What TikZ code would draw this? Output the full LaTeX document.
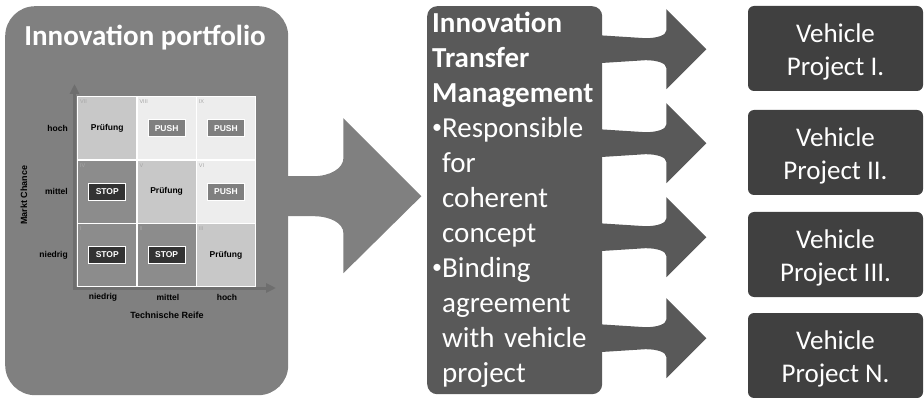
\documentclass[tikz,border=0pt]{standalone}
\usepackage{fontspec}
\setmainfont{Carlito}
\newfontfamily\gridfont{Liberation Sans}
\usetikzlibrary{arrows.meta, calc, positioning}

\definecolor{panelgray}{HTML}{808080}
\definecolor{itmgray}{HTML}{595959}
\definecolor{projgray}{HTML}{404040}
\definecolor{celllight}{HTML}{EDEDED}
\definecolor{cellmid}{HTML}{C8C8C8}
\definecolor{celldark}{HTML}{8C8C8C}
\definecolor{axisgray}{HTML}{6E6E6E}
\definecolor{numgray}{HTML}{A6A6A6}
\definecolor{pushgray}{HTML}{7F7F7F}
\definecolor{stopgray}{HTML}{333333}

\newcommand{\itmbullet}{\makebox[10pt][l]{\raisebox{4.5pt}{\fontsize{20}{20}\selectfont•}}}
\newcommand{\itmindent}{\hspace*{10pt}}

\begin{document}
\begin{tikzpicture}[x=1pt, y=-1pt,
    panel/.style={fill=panelgray, rounded corners=30pt, minimum width=283pt, minimum height=389pt, anchor=north west, inner sep=0pt},
    ptitle/.style={text=white, font=\fontsize{29}{35}\selectfont\bfseries, anchor=base},
    cell/.style={fill=#1, draw=white, line width=1.2pt, minimum width=59.33pt, minimum height=63.33pt, anchor=north west, inner sep=0pt},
    numeral/.style={text=numgray, font=\gridfont\fontsize{5.5}{5.5}\selectfont, anchor=north west, inner sep=0pt},
    verdict/.style={font=\gridfont\bfseries\fontsize{8.5}{8.5}\selectfont, inner sep=0pt},
    pushbox/.style={fill=pushgray, draw=white, line width=0.8pt, text=white, minimum width=37pt, minimum height=17pt, inner sep=0pt, font=\gridfont\bfseries\fontsize{8.5}{8.5}\selectfont},
    stopbox/.style={pushbox, fill=stopgray},
    axis/.style={draw=axisgray, line width=3pt, {Triangle[length=10pt, width=9pt]}-{Triangle[length=10pt, width=9pt]}},
    axlabel/.style={font=\gridfont\bfseries\fontsize{8.5}{8.5}\selectfont, inner sep=0pt},
    itmbox/.style={fill=itmgray, rounded corners=10pt, text=white, minimum width=175pt, minimum height=388pt, text width=165pt, inner xsep=5pt, align=left, anchor=north west, font=\fontsize{29}{35}\selectfont},
    project/.style={fill=projgray, rounded corners=6pt, text=white, minimum width=175pt, minimum height=85pt, align=center, font=\fontsize{27}{33}\selectfont},
    pics/bigarrow/.style={code={
        \fill[panelgray] (-5,-20) -- (25,-20) .. controls (42,-20) and (55,-28) .. (55,-38) -- (55,-78) -- (133,0)
            -- (55,77) -- (55,37) .. controls (55,27) and (42,20) .. (25,20) -- (-5,20) -- cycle;
    }},
    pics/smallarrow/.style={code={
        \fill[itmgray] (-4,-14) .. controls (20,-12) .. (43,-11) .. controls (55,-11) and (64,-14) .. (64,-19) -- (64,-40) -- (104,0)
            -- (64,40) -- (64,19) .. controls (64,14) and (55,11) .. (43,11) .. controls (20,12) .. (-4,14) -- cycle;
    }},
]
\useasboundingbox (0,0) rectangle (924,398);

% ---------------------------------------------------------------
% Innovation portfolio
% ---------------------------------------------------------------
\node[panel] (panel) at (5,6) {};
\pic at ($(panel.east)+(0,-4.5)$) {bigarrow};
\node[ptitle] (ptitle) at (145,46) {Innovation portfolio};

% Cells of the portfolio matrix
\foreach \num/\col/\row/\shade in {I/0/2/celldark, II/1/2/celldark, III/2/2/cellmid,
        IV/0/1/celldark, V/1/1/cellmid, VI/2/1/celllight,
        VII/0/0/cellmid, VIII/1/0/celllight, IX/2/0/celllight} {
    \node[cell=\shade] (cell\num) at ({77+\col*59.33}, {96+\row*63.33}) {};
    \node[numeral] at ([xshift=3pt, yshift=-4pt]cell\num.north west) {\num};
}

% Verdicts
\foreach \num in {VII, V, III}
    \node[verdict] at (cell\num) {Prüfung};
\foreach \num in {VIII, IX, VI}
    \node[pushbox] at (cell\num) {PUSH};
\foreach \num in {IV, I, II}
    \node[stopbox] at (cell\num) {STOP};

% Axes
\coordinate (origin) at (74.5,288);
\coordinate (ytip) at (74.5,84);
\coordinate (xtip) at (276,288);
\draw[axis] (ytip) -- (origin) -- (xtip);

% Axis labels
\node[axlabel, anchor=east, left=9pt of cellVII] (rowhigh) {hoch};
\node[axlabel, anchor=east, left=9pt of cellIV] (rowmid) {mittel};
\node[axlabel, anchor=east, left=9pt of cellI] (rowlow) {niedrig};
\node[axlabel] (collow) at (103,297) {niedrig};
\node[axlabel] (colmid) at (168,297) {mittel};
\node[axlabel] (colhigh) at (227,297) {hoch};
\node[axlabel, font=\gridfont\bfseries\fontsize{9}{9}\selectfont] (xname) at (167,315) {Technische Reife};
\node[axlabel, font=\gridfont\bfseries\fontsize{9}{9}\selectfont, rotate=90] (yname) at (24,195) {Markt Chance};

% ---------------------------------------------------------------
% Innovation Transfer Management
% ---------------------------------------------------------------
\node[itmbox] (itm) at (427,6) {\textbf{Innovation}\\\textbf{Transfer}\\\textbf{Management}\\
    \itmbullet Responsible\\\itmindent for\\\itmindent coherent\\\itmindent concept\\
    \itmbullet Binding\\\itmindent agreement\\\itmindent with vehicle\\\itmindent project};
\foreach \dy in {-151, -57, 37, 138}
    \pic at ($(itm.east)+(0,\dy)$) {smallarrow};

% ---------------------------------------------------------------
% Vehicle projects
% ---------------------------------------------------------------
\foreach \i/\y/\lbl in {1/48.5/I., 2/152.5/II., 3/254.5/III., 4/355.5/N.}
    \node[project] (proj\i) at (835.5,\y) {\rule{0pt}{25pt}Vehicle\\Project \lbl};

\end{tikzpicture}
\end{document}
